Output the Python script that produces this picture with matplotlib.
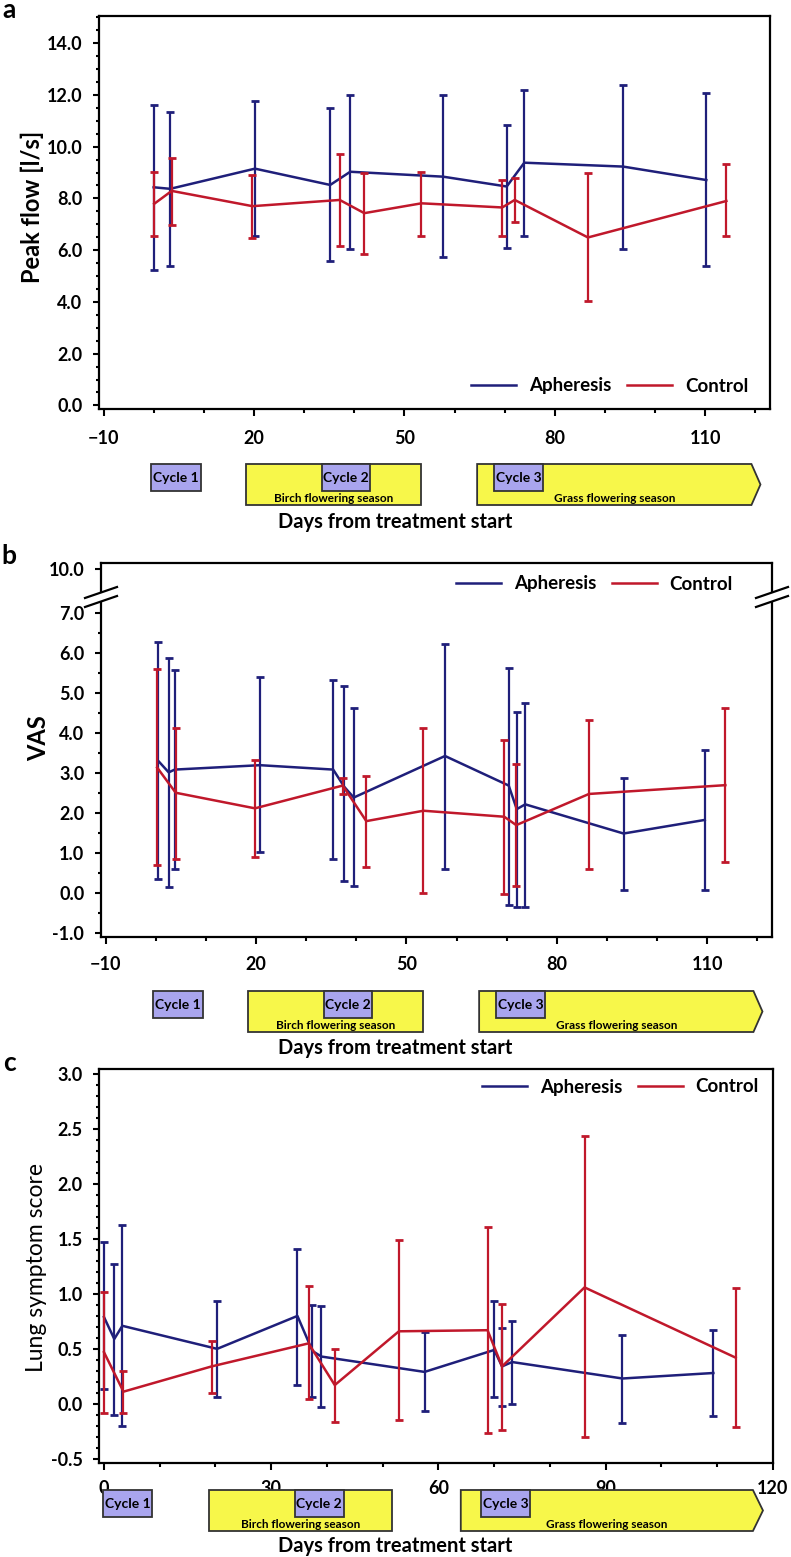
import matplotlib
matplotlib.use('Agg')
import matplotlib.pyplot as plt
from matplotlib.patches import Rectangle, Polygon
from matplotlib.lines import Line2D
from matplotlib.ticker import FixedLocator, MultipleLocator, FormatStrFormatter

plt.rcParams['font.family'] = ['Lato', 'DejaVu Sans']

# ---- data ----
# panel a: peak flow
a_aph_days = [0, 3.3, 20.2, 35.2, 39.2, 57.7, 70.4, 73.9, 93.6, 110.2]
a_aph_mean = [8.43, 8.37, 9.15, 8.52, 9.03, 8.84, 8.46, 9.38, 9.23, 8.71]
a_aph_hi = [11.62, 11.35, 11.76, 11.49, 12.01, 11.98, 10.84, 12.20, 12.39, 12.06]
a_aph_lo = [5.24, 5.37, 6.56, 5.59, 6.04, 5.73, 6.09, 6.56, 6.04, 5.37]
a_ctl_days = [0.1, 3.6, 19.7, 37.1, 42.0, 53.4, 69.5, 72.0, 86.6, 114.2]
a_ctl_mean = [7.79, 8.29, 7.70, 7.94, 7.43, 7.81, 7.65, 7.94, 6.49, 7.90]
a_ctl_hi = [9.02, 9.58, 8.92, 9.71, 9.00, 9.02, 8.71, 8.78, 8.97, 9.32]
a_ctl_lo = [6.53, 6.99, 6.47, 6.17, 5.85, 6.56, 6.56, 7.09, 4.02, 6.53]

# panel b: VAS
b_aph_days = [0.5, 2.6, 3.8, 20.8, 35.4, 37.6, 39.5, 57.7, 70.4, 72.0, 73.7, 93.3, 109.5]
b_aph_mean = [3.30, 3.01, 3.08, 3.19, 3.08, 2.65, 2.38, 3.42, 2.68, 2.09, 2.21, 1.48, 1.82]
b_aph_hi = [6.28, 5.88, 5.56, 5.40, 5.32, 5.17, 4.63, 6.22, 5.63, 4.52, 4.75, 2.88, 3.57]
b_aph_lo = [0.34, 0.13, 0.59, 1.01, 0.84, 0.28, 0.17, 0.59, -0.31, -0.37, -0.35, 0.07, 0.07]
b_ctl_days = [0.3, 4.0, 19.8, 37.3, 42.0, 53.4, 69.5, 71.9, 86.4, 113.6]
b_ctl_mean = [3.13, 2.50, 2.11, 2.68, 1.79, 2.05, 1.90, 1.69, 2.47, 2.69]
b_ctl_hi = [5.59, 4.13, 3.32, 2.88, 2.93, 4.11, 3.82, 3.22, 4.32, 4.61]
b_ctl_lo = [0.68, 0.84, 0.88, 2.47, 0.63, 0.00, -0.04, 0.17, 0.60, 0.77]

# panel c: lung symptom score
c_aph_days = [0, 1.85, 3.3, 20.3, 34.7, 37.4, 39.0, 57.5, 70.0, 71.4, 73.2, 93.0, 109.3]
c_aph_mean = [0.79, 0.59, 0.71, 0.50, 0.80, 0.48, 0.43, 0.29, 0.49, 0.34, 0.38, 0.23, 0.28]
c_aph_hi = [1.47, 1.27, 1.63, 0.94, 1.41, 0.90, 0.89, 0.65, 0.94, 0.69, 0.75, 0.63, 0.67]
c_aph_lo = [0.13, -0.10, -0.20, 0.06, 0.17, 0.06, -0.03, -0.07, 0.06, -0.02, 0.00, -0.18, -0.11]
c_ctl_days = [0, 3.5, 19.3, 36.7, 41.4, 52.9, 68.8, 71.4, 86.2, 113.3]
c_ctl_mean = [0.47, 0.11, 0.34, 0.55, 0.17, 0.66, 0.67, 0.34, 1.06, 0.42]
c_ctl_hi = [1.02, 0.30, 0.57, 1.07, 0.50, 1.49, 1.61, 0.91, 2.44, 1.05]
c_ctl_lo = [-0.08, -0.08, 0.10, 0.04, -0.17, -0.15, -0.27, -0.24, -0.30, -0.21]

# treatment cycles and pollen seasons (day ranges)
cycle_names = ['Cycle 1', 'Cycle 2', 'Cycle 3']
ab_cycles = [(-0.5, 9.4), (33.5, 43.2), (67.9, 77.6)]
ab_birch = (18.5, 53.3)
ab_grass = (64.5, 119.2, 121.0)
c_cycles = [(-0.2, 8.65), (34.2, 43.0), (67.6, 76.5)]
c_birch = (18.85, 51.7)
c_grass = (64.0, 116.4, 118.2)

BLUE = '#1f1f7a'
RED = '#c0182b'
W, H = 791, 1557

fig = plt.figure(figsize=(W / 100, H / 100), dpi=100)


def rect(l, t, r, b):
    return [l / W, 1 - b / H, (r - l) / W, (b - t) / H]


def series(ax, days, mean, lo, hi, color, label):
    err = [[m - l for m, l in zip(mean, lo)], [h - m for m, h in zip(mean, hi)]]
    ax.errorbar(days, mean, yerr=err, fmt='none', ecolor=color, elinewidth=1.6,
                capsize=3.2, capthick=2.0)
    ax.plot(days, mean, color=color, lw=1.8, label=label)


def style(ax, xpad=8):
    for s in ax.spines.values():
        s.set_linewidth(1.6)
    ax.tick_params(axis='y', which='major', length=4, width=1.5, pad=8, labelsize=13)
    ax.tick_params(axis='y', which='minor', length=2, width=1.5)
    ax.tick_params(axis='x', which='major', length=5, width=1.5, pad=xpad, labelsize=13)
    ax.tick_params(axis='x', which='minor', length=3, width=1.5)
    for t in ax.get_xticklabels() + ax.get_yticklabels():
        t.set_fontweight('bold')


def leg(ax, xr, yc):
    ax.legend(loc='center right', bbox_to_anchor=(xr, yc), ncol=2, frameon=False,
              prop={'weight': 'bold', 'size': 13.5}, handlelength=2.4,
              handletextpad=0.7, columnspacing=0.8, borderpad=0, borderaxespad=0)


def timeline(tax, xlim, cycles, birch, grass):
    tax.set_xlim(xlim)
    tax.set_ylim(0, 1)
    tax.axis('off')
    ch = 27 / 41
    tax.add_patch(Rectangle((birch[0], 0), birch[1] - birch[0], 1, fc='#f7f74a',
                            ec='#333333', lw=1.3, clip_on=False))
    g0, g1, gt = grass
    tax.add_patch(Polygon([(g0, 0), (g1, 0), (gt, 0.5), (g1, 1), (g0, 1)], closed=True,
                          fc='#f7f74a', ec='#333333', lw=1.3, clip_on=False))
    tax.text((birch[0] + birch[1]) / 2, 0.17, 'Birch flowering season', ha='center',
             va='center', fontsize=8.5, fontweight='bold')
    tax.text((g0 + g1) / 2, 0.17, 'Grass flowering season', ha='center',
             va='center', fontsize=8.5, fontweight='bold')
    for (c0, c1), name in zip(cycles, cycle_names):
        tax.add_patch(Rectangle((c0, 1 - ch), c1 - c0, ch, fc='#a9a5ee', ec='#333333',
                                lw=1.3, clip_on=False, zorder=3))
        tax.text((c0 + c1) / 2, 1 - ch / 2, name, ha='center', va='center',
                 fontsize=10, fontweight='bold', zorder=4)


ab_xlim = (-10.9, 122.9)
c_xlim = (-0.8, 120)

# ---------------- panel a ----------------
ax = fig.add_axes(rect(99, 16, 770, 409))
series(ax, a_aph_days, a_aph_mean, a_aph_lo, a_aph_hi, BLUE, 'Apheresis')
series(ax, a_ctl_days, a_ctl_mean, a_ctl_lo, a_ctl_hi, RED, 'Control')
ax.set_xlim(ab_xlim)
ax.set_ylim(-0.14, 15.05)
ax.xaxis.set_major_locator(FixedLocator([-10, 20, 50, 80, 110]))
ax.xaxis.set_minor_locator(FixedLocator([0, 10, 30, 40, 60, 70, 90, 100, 120]))
ax.yaxis.set_major_locator(MultipleLocator(2))
ax.yaxis.set_minor_locator(MultipleLocator(0.5))
ax.yaxis.set_major_formatter(FormatStrFormatter('%.1f'))
style(ax, xpad=10)
leg(ax, (748 - 99) / 671, (409 - 386) / 393)
fig.text(32 / W, 1 - 207 / H, 'Peak flow [l/s]', rotation=90, ha='center', va='center',
         fontsize=17, fontweight='bold')
fig.text(9 / W, 1 - 10 / H, 'a', ha='center', va='center', fontsize=19, fontweight='bold')
tax = fig.add_axes(rect(99, 464, 770, 505))
timeline(tax, ab_xlim, ab_cycles, ab_birch, ab_grass)
fig.text(0.5, 1 - 522 / H, 'Days from treatment start', ha='center', va='center',
         fontsize=14.5, fontweight='bold')

# ---------------- panel b ----------------
ax = fig.add_axes(rect(101, 563, 772, 937))
series(ax, b_aph_days, b_aph_mean, b_aph_lo, b_aph_hi, BLUE, 'Apheresis')
series(ax, b_ctl_days, b_ctl_mean, b_ctl_lo, b_ctl_hi, RED, 'Control')
ax.set_xlim(ab_xlim)
ax.set_ylim(-1.11, 8.25)
ax.xaxis.set_major_locator(FixedLocator([-10, 20, 50, 80, 110]))
ax.xaxis.set_minor_locator(FixedLocator([0, 10, 30, 40, 60, 70, 90, 100, 120]))
# broken axis: 10.0 drawn just above the break
yt = [-1, 0, 1, 2, 3, 4, 5, 6, 7, 8.11]
ax.set_yticks(yt)
ax.set_yticklabels(['%.1f' % v for v in yt[:-1]] + ['10.0'])
ax.yaxis.set_minor_locator(FixedLocator([v + 0.5 for v in range(-1, 7)]))
style(ax, xpad=9)
leg(ax, (733 - 101) / 671, (937 - 584) / 374)
for xc in (101, 772):
    yc = 597
    up = [(xc - 16, yc + 1), (xc + 16, yc - 10)]
    dn = [(xc - 16, yc + 10), (xc + 16, yc - 1)]
    fig.add_artist(Polygon([(x / W, 1 - y / H) for x, y in up + dn[::-1]], closed=True,
                           fc='white', ec='none', transform=fig.transFigure, zorder=5))
    for seg in (up, dn):
        fig.add_artist(Line2D([p[0] / W for p in seg], [1 - p[1] / H for p in seg],
                              color='black', lw=1.6, transform=fig.transFigure, zorder=6))
fig.text(39 / W, 1 - 738 / H, 'VAS', rotation=90, ha='center', va='center',
         fontsize=17, fontweight='bold')
fig.text(9 / W, 1 - 556 / H, 'b', ha='center', va='center', fontsize=19, fontweight='bold')
tax = fig.add_axes(rect(101, 991, 772, 1032))
timeline(tax, ab_xlim, ab_cycles, ab_birch, ab_grass)
fig.text(0.5, 1 - 1048 / H, 'Days from treatment start', ha='center', va='center',
         fontsize=14.5, fontweight='bold')

# ---------------- panel c ----------------
ax = fig.add_axes(rect(99.5, 1069, 773, 1463))
series(ax, c_aph_days, c_aph_mean, c_aph_lo, c_aph_hi, BLUE, 'Apheresis')
series(ax, c_ctl_days, c_ctl_mean, c_ctl_lo, c_ctl_hi, RED, 'Control')
ax.set_xlim(c_xlim)
ax.set_ylim(-0.54, 3.05)
ax.xaxis.set_major_locator(MultipleLocator(30))
ax.xaxis.set_minor_locator(MultipleLocator(10))
ax.yaxis.set_major_locator(MultipleLocator(0.5))
ax.yaxis.set_minor_locator(MultipleLocator(0.1))
ax.yaxis.set_major_formatter(FormatStrFormatter('%.1f'))
style(ax, xpad=7)
leg(ax, (759 - 99.5) / 673.5, (1463 - 1087) / 394)
fig.text(37 / W, 1 - 1268 / H, 'Lung symptom score', rotation=90, ha='center',
         va='center', fontsize=16.5)
fig.text(9 / W, 1 - 1063 / H, 'c', ha='center', va='center', fontsize=19, fontweight='bold')
tax = fig.add_axes(rect(99.5, 1490, 773, 1531))
timeline(tax, c_xlim, c_cycles, c_birch, c_grass)
fig.text(0.5, 1 - 1546 / H, 'Days from treatment start', ha='center', va='center',
         fontsize=14.5, fontweight='bold')

fig.savefig('out.png', dpi=100)
